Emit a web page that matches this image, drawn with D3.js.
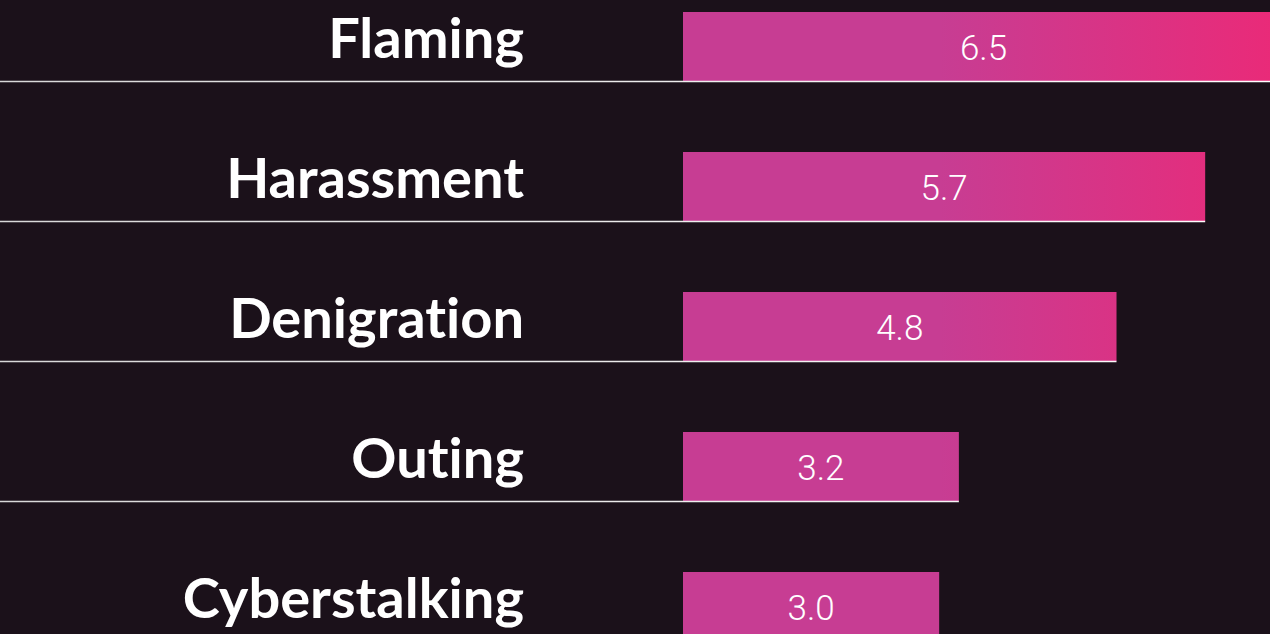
<!DOCTYPE html>
<html><head><meta charset="utf-8">
<script src="https://cdn.jsdelivr.net/npm/d3@7"></script>
<style>
html,body{margin:0;padding:0;background:#1b111a;overflow:hidden;}
svg{display:block;}
text{font-variant-ligatures:none;font-feature-settings:"liga" 0,"clig" 0;}
</style></head>
<body>
<svg id="chart" width="1270" height="634"></svg>
<script>
const categories = ["Flaming","Harassment","Denigration","Outing","Cyberstalking"];
const values = [6.5, 5.7, 4.8, 3.2, 3.0];
const valueLabels = ["6.5","5.7","4.8","3.2","3.0"];

const W = 1270, H = 634;
const svg = d3.select("#chart");
svg.append("rect").attr("width", W).attr("height", H).attr("fill", "#1b111a");

const defs = svg.append("defs");
const grad = defs.append("linearGradient").attr("id","barGrad")
  .attr("gradientUnits","userSpaceOnUse").attr("x1",940).attr("x2",1280).attr("y1",0).attr("y2",0);
grad.append("stop").attr("offset","0").attr("stop-color","#c73d93");
grad.append("stop").attr("offset","1").attr("stop-color","#ea2a78");

const lineGrad = defs.append("linearGradient").attr("id","lineGrad")
  .attr("gradientUnits","userSpaceOnUse").attr("x1",0).attr("x2",1270).attr("y1",0).attr("y2",0);
lineGrad.append("stop").attr("offset","0").attr("stop-color","#d8d8d8");
lineGrad.append("stop").attr("offset","1").attr("stop-color","#ffffff");

const x = d3.scaleLinear().domain([0.4, 6.5]).range([683, 1284]);
const y = d3.scaleBand().domain(categories).range([12, 709.2]).paddingInner(0.02).paddingOuter(0);
const barH = 69;

const rows = svg.selectAll("g.row").data(categories).join("g").attr("class","row");

rows.append("rect")
  .attr("x", x.range()[0])
  .attr("y", d => y(d))
  .attr("width", (d,i) => x(values[i]) - x.range()[0])
  .attr("height", barH)
  .attr("fill", "url(#barGrad)");

rows.append("line")
  .attr("x1", 0)
  .attr("x2", (d,i) => x(values[i]))
  .attr("y1", d => y(d) + barH + 0.5)
  .attr("y2", d => y(d) + barH + 0.5)
  .attr("stroke", "url(#lineGrad)")
  .attr("stroke-width", 1.5);

rows.append("text")
  .attr("x", 524)
  .attr("y", d => y(d) + barH/2)
  .attr("dy", "0.2em")
  .attr("text-anchor", "end")
  .attr("fill", "#ffffff")
  .attr("font-family", "Lato, 'Open Sans', sans-serif")
  .attr("font-weight", 700)
  .attr("font-size", 56)
  .text(d => d);

rows.append("text")
  .attr("x", (d,i) => (x.range()[0] + x(values[i])) / 2)
  .attr("y", d => y(d) + barH/2)
  .attr("dy", "0.38em")
  .attr("text-anchor", "middle")
  .attr("fill", "#ffffff")
  .attr("font-family", "Roboto, 'Liberation Sans', sans-serif")
  .attr("font-weight", 300)
  .attr("font-size", 35)
  .text((d,i) => valueLabels[i]);
</script>
</body></html>
